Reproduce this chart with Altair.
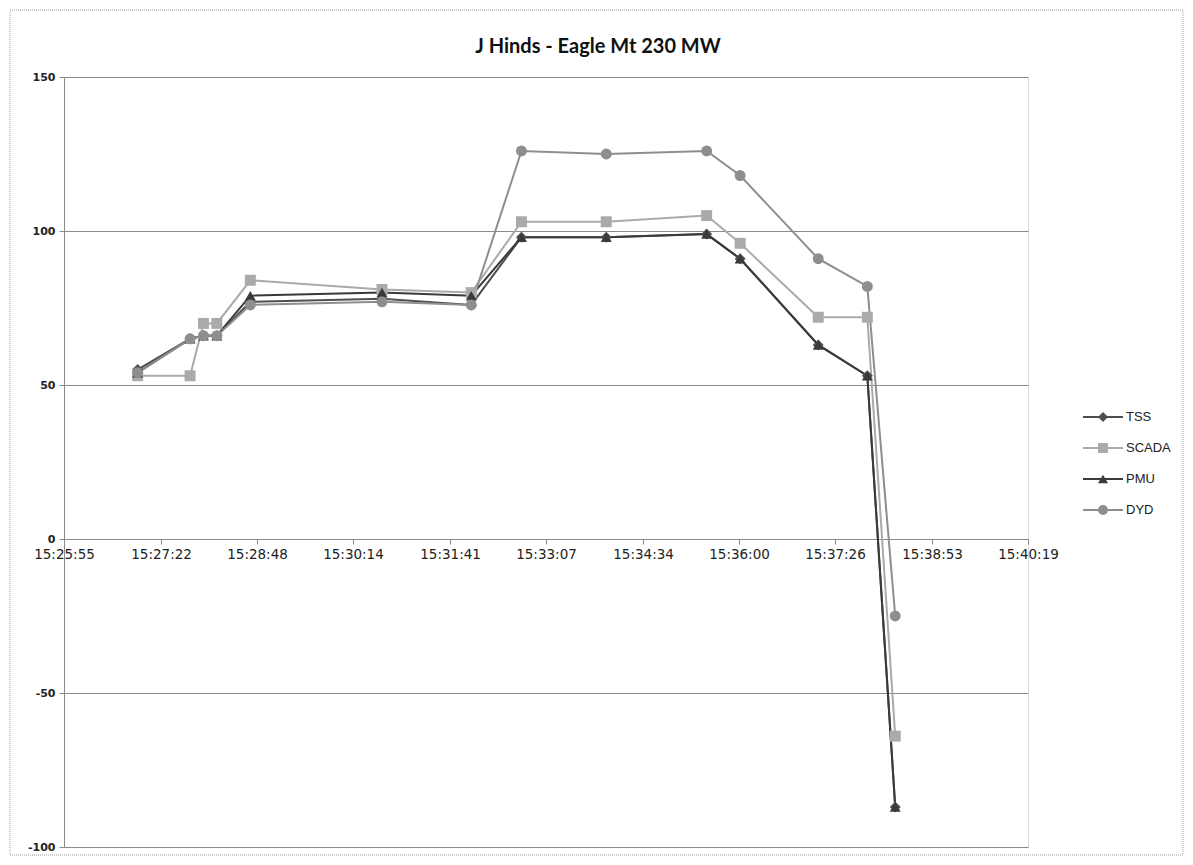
import altair as alt
import pandas as pd

# ---- data ----
times = ["15:27:01", "15:27:48", "15:28:00", "15:28:12", "15:28:42", "15:30:40", "15:32:00",
         "15:32:45", "15:34:01", "15:35:31", "15:36:01", "15:37:11", "15:37:55", "15:38:20"]
tss   = [55, 65, 66, 66, 77, 78, 76, 98, 98, 99, 91, 63, 53, -87]
scada = [53, 53, 70, 70, 84, 81, 80, 103, 103, 105, 96, 72, 72, -64]
pmu   = [54, 65, 66, 66, 79, 80, 79, 98, 98, 99, 91, 63, 53, -87]
dyd   = [54, 65, 66, 66, 76, 77, 76, 126, 125, 126, 118, 91, 82, -25]

series_names = ["TSS", "SCADA", "PMU", "DYD"]
series_colors = ["#4f4f4f", "#aaaaaa", "#3a3a3a", "#8e8e8e"]
series_shapes = ["diamond", "square", "triangle-up", "circle"]

x_tick_labels = ["15:25:55", "15:27:22", "15:28:48", "15:30:14", "15:31:41", "15:33:07",
                 "15:34:34", "15:36:00", "15:37:26", "15:38:53", "15:40:19"]
y_ticks = [-100, -50, 0, 50, 100, 150]
title_text = "J Hinds - Eagle Mt 230 MW"


def to_sec(t):
    h, m, s = (int(p) for p in t.split(":"))
    return h * 3600 + m * 60 + s


rows = []
for name, vals in zip(series_names, [tss, scada, pmu, dyd]):
    for t, v in zip(times, vals):
        rows.append({"series": name, "sec": to_sec(t), "value": v})
df = pd.DataFrame(rows)
legend_df = pd.DataFrame({"series": series_names, "idx": list(range(len(series_names)))})

x_vals = [to_sec(t) for t in x_tick_labels]

W, H = 964, 770
GRID = "#8a8a8a"

x_enc = alt.X(
    "sec:Q",
    scale=alt.Scale(domain=[x_vals[0], x_vals[-1]], nice=False, zero=False),
    axis=alt.Axis(
        values=x_vals, title=None, grid=False, orient="bottom",
        offset=-H * (0 - y_ticks[0]) / (y_ticks[-1] - y_ticks[0]),
        labelExpr="timeFormat(datetime(2000,0,1,0,0,datum.value),'%H:%M:%S')",
        labelFont="DejaVu Sans", labelFontSize=13.5, labelColor="#222",
        domainColor=GRID, tickColor=GRID, tickSize=5, labelPadding=3,
        labelFlush=False, labelOverlap=False,
    ),
)
y_enc = alt.Y(
    "value:Q",
    scale=alt.Scale(domain=[y_ticks[0], y_ticks[-1]], nice=False),
    axis=alt.Axis(
        values=y_ticks, title=None, grid=True, gridColor=GRID, gridOpacity=1,
        domainColor=GRID, tickColor=GRID, tickSize=5, labelPadding=4,
        labelExpr="'' + datum.value",
        labelFont="DejaVu Sans", labelFontSize=11, labelFontWeight="bold", labelColor="#222",
    ),
)

color_scale = alt.Scale(domain=series_names, range=series_colors)
shape_scale = alt.Scale(domain=series_names, range=series_shapes)

base = alt.Chart(df).encode(x=x_enc, y=y_enc)

lines = base.mark_line(strokeWidth=2).encode(
    color=alt.Color("series:N", scale=color_scale, legend=None),
    order=alt.Order("sec:Q"),
)
points = base.mark_point(filled=True, size=120, opacity=1).encode(
    color=alt.Color("series:N", scale=color_scale, legend=None),
    shape=alt.Shape("series:N", scale=shape_scale, legend=None),
)
main = alt.layer(lines, points)

# legend drawn as its own small layer (line + marker + label, like the Excel legend)
ly = alt.Y("idx:O", scale=alt.Scale(type="point", range=[340, 433], padding=0), axis=None)
lbase = alt.Chart(legend_df).encode(y=ly)
leg_line = lbase.mark_rule(strokeWidth=2).encode(
    x=alt.value(1019), x2=alt.value(1059),
    color=alt.Color("series:N", scale=color_scale, legend=None),
)
leg_pt = lbase.mark_point(filled=True, size=100, opacity=1).encode(
    x=alt.value(1039),
    color=alt.Color("series:N", scale=color_scale, legend=None),
    shape=alt.Shape("series:N", scale=shape_scale, legend=None),
)
leg_txt = lbase.mark_text(align="left", baseline="middle", font="Liberation Sans",
                          fontSize=13, color="#222").encode(
    x=alt.value(1062), text="series:N")
leg = alt.layer(leg_line, leg_pt, leg_txt)

frame = alt.Chart(pd.DataFrame({"k": [0]})).mark_rect(
    filled=False, stroke="#a0a0a0", strokeDash=[1, 1], strokeWidth=1
).encode(x=alt.value(-54), x2=alt.value(1119), y=alt.value(-67), y2=alt.value(778))

chart = alt.layer(frame, main, leg).resolve_scale(y="independent").properties(
    width=W, height=H,
    title=alt.TitleParams(title_text, font="Lato", fontSize=20, fontWeight="bold",
                          color="#111", anchor="middle", frame="group",
                          dx=52, dy=67, offset=20),
    autosize=alt.AutoSizeParams(type="none"),
    padding={"left": 56, "top": 69, "right": 157, "bottom": 10},
).configure_view(stroke=None).configure(background="white")

chart.save("out.html", embed_options={"renderer": "svg", "actions": False})
